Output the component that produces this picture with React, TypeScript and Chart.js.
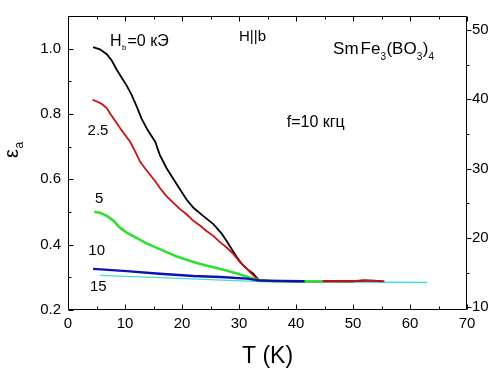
import React, { useEffect, useRef } from 'react';
import { Chart, registerables } from 'chart.js';
Chart.register(...registerables);

// ---- data (T in K, epsilon_a) ----
const T_H0 = [4.4, 5.6, 6.8, 7.7, 8.5, 9.4, 10.3, 11.2, 12.1, 12.9, 14.0, 15.3, 16.1, 17.3, 19.1, 20.8, 22.0, 23.7, 25.5, 27.0, 27.8, 28.7, 29.6, 30.5, 31.4, 32.5, 33.4, 36, 40, 45, 50, 52, 53.5, 55];
const E_H0 = [1.005, 0.998, 0.983, 0.963, 0.937, 0.912, 0.887, 0.857, 0.821, 0.786, 0.75, 0.715, 0.675, 0.634, 0.584, 0.538, 0.513, 0.488, 0.463, 0.433, 0.412, 0.387, 0.362, 0.341, 0.326, 0.311, 0.293, 0.289, 0.288, 0.288, 0.288, 0.29, 0.29, 0.288];

const T_H25 = [4.3, 5.0, 5.9, 6.8, 7.4, 8.0, 9.4, 10.9, 11.8, 12.6, 13.5, 14.4, 15.3, 16.1, 17.3, 18.5, 19.7, 20.8, 22.0, 23.2, 24.3, 25.5, 26.7, 27.8, 29.0, 30.2, 31.4, 32.8, 33.6, 36, 40, 45, 50, 52, 53, 55.5];
const E_H25 = [0.843, 0.839, 0.831, 0.818, 0.801, 0.786, 0.75, 0.715, 0.685, 0.655, 0.634, 0.614, 0.594, 0.574, 0.548, 0.528, 0.508, 0.493, 0.473, 0.458, 0.442, 0.427, 0.407, 0.392, 0.372, 0.346, 0.326, 0.301, 0.291, 0.288, 0.288, 0.288, 0.288, 0.291, 0.29, 0.288];

const T_H5 = [4.6, 5.6, 6.8, 8.0, 9.1, 10.3, 12.1, 13.8, 15.6, 17.3, 19.1, 20.8, 23.2, 25.5, 27.8, 30.2, 32.5, 33.6, 38, 44.7];
const E_H5 = [0.501, 0.498, 0.488, 0.473, 0.452, 0.437, 0.420, 0.404, 0.390, 0.377, 0.364, 0.354, 0.341, 0.331, 0.321, 0.309, 0.296, 0.290, 0.288, 0.288];

const T_H10 = [4.4, 10.3, 16.1, 22.0, 26.7, 31.4, 33.7, 41.5];
const E_H10 = [0.326, 0.319, 0.311, 0.304, 0.301, 0.296, 0.290, 0.288];

const T_H15 = [5.6, 16.1, 24.9, 33.7, 45, 55, 63];
const E_H15 = [0.306, 0.299, 0.293, 0.287, 0.286, 0.285, 0.284];

// ---- ticks ----
const X_MAJOR = [0, 10, 20, 30, 40, 50, 60, 70];
const X_MINOR = [5, 15, 25, 35, 45, 55, 65];
const L_MAJOR = [0.2, 0.4, 0.6, 0.8, 1.0];
const L_MINOR = [0.3, 0.5, 0.7, 0.9];
const R_MAJOR = [10, 20, 30, 40, 50];
const R_MINOR = [15, 25, 35, 45];

const FONT = '"Liberation Sans", Arial, sans-serif';

const pts = (xs: number[], ys: number[]) => xs.map((x, i) => ({ x, y: ys[i] }));

const overlay = {
  id: 'overlay',
  afterDraw(chart: any) {
    const { ctx, chartArea } = chart;
    const { left, right, top, bottom } = chartArea;
    const sx = chart.scales.x, sy = chart.scales.y, sr = chart.scales.y2;
    ctx.save();
    ctx.strokeStyle = '#000';
    ctx.lineWidth = 1;
    ctx.beginPath();
    ctx.rect(left + 0.5, top + 0.5, right - left - 1, bottom - top - 1);
    ctx.stroke();
    const L = Math.round(left) + 0.5, R = Math.round(right) - 0.5, T = Math.round(top) + 0.5, B = Math.round(bottom) - 0.5;
    ctx.beginPath();
    const xt = (v: number, len: number) => {
      const p = Math.round(sx.getPixelForValue(v)) + 0.5;
      ctx.moveTo(p, B); ctx.lineTo(p, B - len);
      ctx.moveTo(p, T); ctx.lineTo(p, T + len);
    };
    X_MAJOR.forEach(v => xt(v, 5));
    X_MINOR.forEach(v => xt(v, 3));
    const lt = (v: number, len: number) => {
      const p = Math.round(sy.getPixelForValue(v)) + 0.5;
      ctx.moveTo(L, p); ctx.lineTo(L + len, p);
    };
    L_MAJOR.forEach(v => lt(v, 5));
    L_MINOR.forEach(v => lt(v, 3));
    const rt = (v: number, len: number) => {
      const p = Math.round(sr.getPixelForValue(v)) + 0.5;
      ctx.moveTo(R, p); ctx.lineTo(R + len, p);
    };
    R_MAJOR.forEach(v => rt(v, 5));
    R_MINOR.forEach(v => rt(v, 3));
    ctx.stroke();

    ctx.fillStyle = '#000';
    ctx.textBaseline = 'alphabetic';
    const px = (t: number) => sx.getPixelForValue(t);
    const py = (e: number) => sy.getPixelForValue(e);
    const txt = (s: string, x: number, y: number, size: number, align: CanvasTextAlign = 'left') => {
      ctx.font = `${size}px ${FONT}`;
      ctx.textAlign = align;
      ctx.fillText(s, x, y);
      return ctx.measureText(s).width;
    };

    // H_b = 0 kOe
    {
      let x = px(7.37); const y = py(1.008);
      x += txt('H', x, y, 16);
      x += txt('b', x + 0.5, y + 3.5, 8) + 1.5;
      txt('=0 кЭ', x, y, 16);
    }
    // H||b
    txt('H||b', px(32.37), py(1.024), 15, 'center');
    // SmFe3(BO3)4
    {
      let x = px(46.5); const y = py(0.983);
      const segs: [string, boolean][] = [['Sm', false], ['Fe', false], ['3', true], ['(BO', false], ['3', true], [')', false], ['4', true]];
      segs.forEach(([s, sub], i) => {
        if (i === 1) x += 2;
        if (sub) x += txt(s, x, y + 6, 10) + 0.5;
        else x += txt(s, x, y, 17);
      });
    }
    // f=10 kHz
    txt('f=10 кгц', px(38.37), py(0.761), 16);
    // field labels
    txt('2.5', px(5.26), py(0.736), 15, 'center');
    txt('5', px(5.49), py(0.528), 15, 'center');
    txt('10', px(5.03), py(0.367), 15, 'center');
    txt('15', px(5.32), py(0.258), 15, 'center');

    // y axis title: epsilon_a (rotated)
    ctx.save();
    ctx.translate(left - 50, 158);
    ctx.rotate(-Math.PI / 2);
    const w = txt('ε', 0, 0, 20);
    txt('a', w + 0.5, 5, 12);
    ctx.restore();

    ctx.restore();
  },
};

export default function App() {
  const ref = useRef<HTMLCanvasElement | null>(null);
  useEffect(() => {
    document.body.style.margin = '0';
    const canvas = ref.current!;
    const tickFont = { family: FONT, size: 15 };
    const chart = new Chart(canvas, {
      type: 'line',
      data: {
        datasets: [
          { data: pts(T_H10, E_H10), borderColor: '#1010b4', borderWidth: 2.4, order: 0 },
          { data: pts(T_H5, E_H5), borderColor: '#30e030', borderWidth: 2.6, order: 1 },
          { data: pts(T_H25, E_H25), borderColor: '#cc1010', borderWidth: 1.8, order: 2 },
          { data: pts(T_H0, E_H0), borderColor: '#000000', borderWidth: 1.8, order: 3 },
          { data: pts(T_H15, E_H15), borderColor: '#40dede', borderWidth: 1.4, order: 4 },
        ].map(d => ({ ...d, pointRadius: 0, tension: 0, fill: false, xAxisID: 'x', yAxisID: 'y' })),
      },
      options: {
        responsive: false,
        animation: false,
        devicePixelRatio: 1,
        layout: { padding: { top: 13, left: 0, right: 0, bottom: 0 } },
        plugins: { legend: { display: false }, tooltip: { enabled: false }, title: { display: false } },
        events: [],
        scales: {
          x: {
            type: 'linear', position: 'bottom', min: 0, max: 70,
            grid: { display: false, drawTicks: false }, border: { display: false },
            afterBuildTicks: (s: any) => { s.ticks = X_MAJOR.map(v => ({ value: v })); },
            ticks: { font: tickFont, color: '#000', padding: 5, maxRotation: 0, autoSkip: false },
            title: { display: true, text: 'T (K)', font: { family: FONT, size: 23 }, color: '#000', padding: { top: 0, bottom: 2 } },
            afterFit: (s: any) => { s.height = 62; },
          },
          y: {
            type: 'linear', position: 'left', min: 0.2, max: 1.1,
            grid: { display: false, drawTicks: false }, border: { display: false },
            afterBuildTicks: (s: any) => { s.ticks = L_MAJOR.map(v => ({ value: v })); },
            ticks: { font: tickFont, color: '#000', padding: 7, autoSkip: false, callback: (v: any) => Number(v).toFixed(1) },
            afterFit: (s: any) => { s.width = 68; },
          },
          y2: {
            type: 'linear', position: 'right', min: 9.6, max: 52,
            grid: { display: false, drawTicks: false }, border: { display: false },
            afterBuildTicks: (s: any) => { s.ticks = R_MAJOR.map(v => ({ value: v })); },
            ticks: { font: tickFont, color: '#000', padding: 5, autoSkip: false },
            afterFit: (s: any) => { s.width = 31; },
          },
        },
      },
      plugins: [overlay],
    } as any);
    return () => chart.destroy();
  }, []);
  return <canvas ref={ref} width={498} height={372} style={{ display: 'block' }} />;
}
